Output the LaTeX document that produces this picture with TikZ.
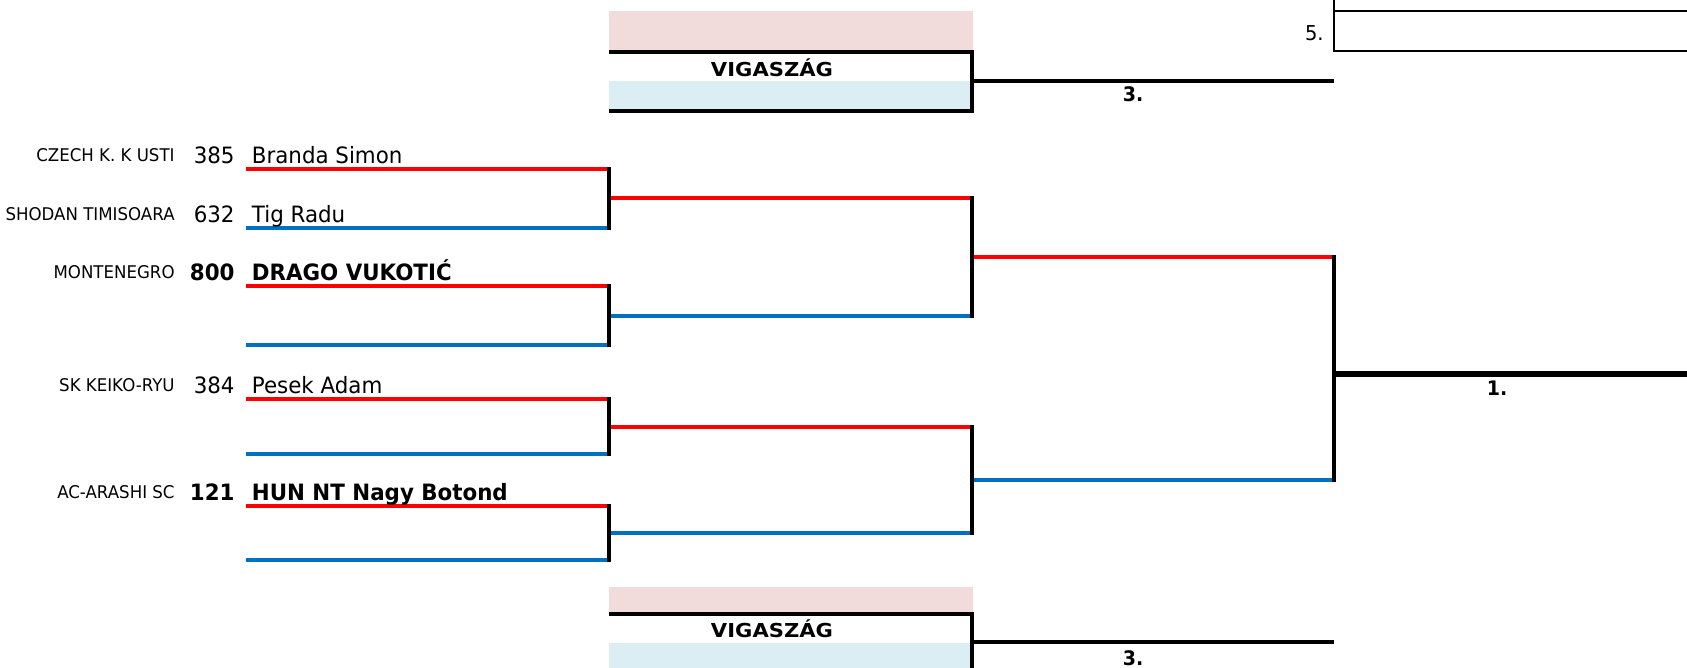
\documentclass[tikz,border=0pt]{standalone}
\usepackage{fontspec}
\setmainfont{DejaVu Sans}[FakeStretch=0.95]
\newfontfamily\vigfont{DejaVu Sans}[FakeStretch=1.1]
\definecolor{xred}{HTML}{FF0000}
\definecolor{xblue}{HTML}{0070C0}
\definecolor{xpink}{HTML}{F2DCDB}
\definecolor{xaqua}{HTML}{DAEEF3}
\tikzset{
 redline/.style={draw=xred,line width=1.6pt},
 blueline/.style={draw=xblue,line width=1.6pt},
 joinline/.style={draw=black,line width=1.7pt,line cap=rect},
 finalline/.style={draw=black,line width=2.7pt},
 thirdline/.style={draw=black,line width=2.3pt},
 boxline/.style={draw=black,line width=1.7pt},
 thinline/.style={draw=black,line width=0.7pt},
 club/.style={anchor=base east,inner sep=0pt,font=\fontsize{8.75}{10}\selectfont},
 seed/.style={anchor=base east,inner sep=0pt,font=\fontsize{11.25}{14}\selectfont},
 fighter/.style={anchor=base west,inner sep=0pt,font=\fontsize{11.25}{14}\selectfont},
 placelbl/.style={inner sep=0pt,font=\fontsize{10}{12}\selectfont\bfseries},
 fivelbl/.style={anchor=east,inner sep=0pt,font=\fontsize{10.25}{12}\selectfont},
 vig/.style={inner sep=0pt,font=\vigfont\fontsize{9.6}{11}\selectfont\bfseries},
}
\begin{document}
\begin{tikzpicture}[x=0.5pt,y=-0.5pt]
\useasboundingbox (0,0) rectangle (1687,668);
% ---------- coordinates ----------
\foreach \n/\y in {1/169,2/228,3/286,4/345,5/399,6/454,7/506,8/560} {
  \coordinate (a\n) at (246,\y);
  \coordinate (b\n) at (609,\y);
}
\foreach \n/\y in {1/198,2/316,3/427,4/533} {
  \coordinate (c\n) at (609,\y);
  \coordinate (d\n) at (972,\y);
}
\foreach \n/\y in {1/257,2/480} {
  \coordinate (f\n) at (972,\y);
  \coordinate (g\n) at (1334,\y);
}
\coordinate (h) at (1334,374);
\coordinate (k) at (1687,374);
% ---------- first round ----------
\draw[redline] (a1) -- (b1);
\draw[blueline] (a2) -- (b2);
\draw[redline] (a3) -- (b3);
\draw[blueline] (a4) -- (b4);
\draw[redline] (a5) -- (b5);
\draw[blueline] (a6) -- (b6);
\draw[redline] (a7) -- (b7);
\draw[blueline] (a8) -- (b8);
% ---------- second round ----------
\draw[redline] (c1) -- (d1);
\draw[blueline] (c2) -- (d2);
\draw[redline] (c3) -- (d3);
\draw[blueline] (c4) -- (d4);
% ---------- semi ----------
\draw[redline] (f1) -- (g1);
\draw[blueline] (f2) -- (g2);
\draw[finalline] (h) -- (k);
% ---------- joins ----------
\draw[joinline] (b1) -- (b2);
\draw[joinline] (b3) -- (b4);
\draw[joinline] (b5) -- (b6);
\draw[joinline] (b7) -- (b8);
\draw[joinline] (d1) -- (d2);
\draw[joinline] (d3) -- (d4);
\draw[joinline] (g1) -- (g2);
% ---------- texts ----------
\node[club] (cl1) at (175,161.5) {CZECH K. K USTI};
\node[seed] (s1) at (235,163.5) {385};
\node[fighter] (n1) at (251.5,163.5) {Branda Simon};
\node[club] (cl2) at (175,220.5) {SHODAN TIMISOARA};
\node[seed] (s2) at (235,222.5) {632};
\node[fighter] (n2) at (251.5,222.5) {Tig Radu};
\node[club] (cl3) at (175,278.5) {MONTENEGRO};
\node[seed,font=\fontsize{11.25}{14}\selectfont\bfseries] (s3) at (235,280.5) {800};
\node[fighter,font=\fontsize{11.25}{14}\selectfont\bfseries] (n3) at (251.5,280.5) {DRAGO VUKOTIĆ};
\node[club] (cl5) at (175,391.5) {SK KEIKO-RYU};
\node[seed] (s5) at (235,393.5) {384};
\node[fighter] (n5) at (251.5,393.5) {Pesek Adam};
\node[club] (cl7) at (175,498.5) {AC-ARASHI SC};
\node[seed,font=\fontsize{11.25}{14}\selectfont\bfseries] (s7) at (235,500.5) {121};
\node[fighter,font=\fontsize{11.25}{14}\selectfont\bfseries] (n7) at (251.5,500.5) {HUN NT Nagy Botond};
\node[placelbl] (first) at (1497,388.5) {1.};
% ---------- top consolation ----------
\fill[xpink] (609,11) rectangle (973,51);
\fill[xaqua] (609,81) rectangle (972,110);
\coordinate (t1) at (609,52);
\coordinate (t2) at (972,52);
\coordinate (t3) at (972,111);
\coordinate (t4) at (609,111);
\draw[boxline] (t1) -- (t2) -- (t3) -- (t4);
\coordinate (t5) at (972,81);
\coordinate (t6) at (1334,81);
\draw[thirdline] (t5) -- (t6);
\node[vig] (vigtop) at (772,68) {VIGASZÁG};
\node[placelbl] (thirdtop) at (1133,94) {3.};
% ---------- bottom consolation ----------
\fill[xpink] (609,587) rectangle (973,613);
\fill[xaqua] (609,643) rectangle (972,668);
\coordinate (u1) at (609,614);
\coordinate (u2) at (972,614);
\coordinate (u3) at (972,668);
\draw[boxline] (u1) -- (u2) -- (u3);
\coordinate (u5) at (972,642);
\coordinate (u6) at (1334,642);
\draw[thirdline] (u5) -- (u6);
\node[vig] (vigbot) at (772,629) {VIGASZÁG};
\node[placelbl] (thirdbot) at (1133,658) {3.};
% ---------- fifth place box ----------
\coordinate (v0) at (1334,0);
\coordinate (v1) at (1334,51);
\coordinate (v2) at (1334,11);
\coordinate (v3) at (1687,11);
\coordinate (v4) at (1687,51);
\draw[thinline] (v0) -- (v1) -- (v4);
\draw[thinline] (v2) -- (v3);
\node[fivelbl] (fifth) at (1324,33) {5.};
\end{tikzpicture}
\end{document}
